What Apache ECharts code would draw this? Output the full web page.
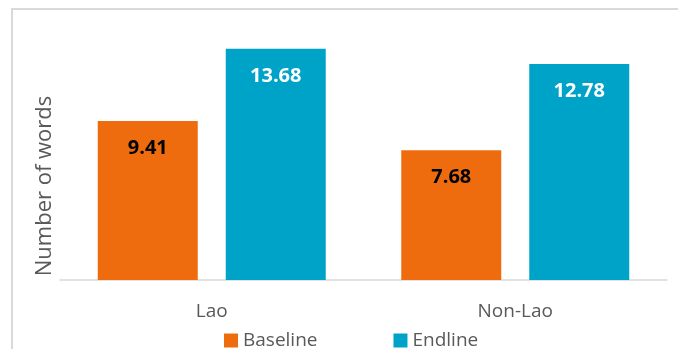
<!DOCTYPE html>
<html>
<head>
<meta charset="utf-8">
<script src="https://cdn.jsdelivr.net/npm/echarts@6/dist/echarts.min.js"></script>
<style>
  html, body { margin: 0; padding: 0; background: #fff; }
  #chart { width: 678px; height: 349px; }
</style>
</head>
<body>
<div id="chart"></div>
<script>
// Vocabulary size by group, baseline vs endline
const categories = ['Lao', 'Non-Lao'];
const baseline = [9.41, 7.68];
const endline = [13.68, 12.78];
const seriesNames = ['Baseline', 'Endline'];
const yTitle = 'Number of words';

const FONT = '"Open Sans", sans-serif';
const chart = echarts.init(document.getElementById('chart'), null, { renderer: 'canvas' });

chart.setOption({
  animation: false,
  backgroundColor: '#ffffff',
  grid: { left: 60, right: 11, top: 43.4, bottom: 69, containLabel: false },
  legend: {
    data: seriesNames,
    left: 219,
    top: 326,
    itemWidth: 14,
    itemHeight: 14,
    itemGap: 76,
    icon: 'rect',
    textStyle: { fontFamily: FONT, fontSize: 19, color: '#595959', padding: [0, 0, 0, 0] }
  },
  xAxis: {
    type: 'category',
    data: categories,
    axisLine: { lineStyle: { color: '#d9d9d9', width: 1.5 } },
    axisTick: { show: false },
    axisLabel: { fontFamily: FONT, fontSize: 19, color: '#595959', margin: 22 }
  },
  yAxis: {
    type: 'value',
    min: 0,
    max: 14,
    axisLine: { show: false },
    axisTick: { show: false },
    axisLabel: { show: false },
    splitLine: { show: false }
  },
  graphic: [
    {
      type: 'rect',
      silent: true,
      shape: { x: 12, y: 9, width: 800, height: 500 },
      style: { fill: 'none', stroke: '#d9d9d9', lineWidth: 2 }
    },
    {
      type: 'text',
      silent: true,
      x: 45,
      y: 186,
      rotation: Math.PI / 2,
      style: {
        text: yTitle,
        fontFamily: FONT,
        fontSize: 22,
        fill: '#595959',
        align: 'center',
        verticalAlign: 'middle'
      }
    }
  ],
  series: [
    {
      name: seriesNames[0],
      type: 'bar',
      data: baseline,
      barWidth: 100,
      barGap: '28%',
      itemStyle: { color: '#ef6c0e' },
      label: {
        show: true,
        position: 'insideTop',
        distance: 17,
        fontFamily: FONT,
        fontSize: 20,
        fontWeight: 'bold',
        color: '#000000',
        formatter: p => p.value.toFixed(2)
      }
    },
    {
      name: seriesNames[1],
      type: 'bar',
      data: endline,
      barWidth: 100,
      itemStyle: { color: '#00a3c8' },
      label: {
        show: true,
        position: 'insideTop',
        distance: 17,
        fontFamily: FONT,
        fontSize: 20,
        fontWeight: 'bold',
        color: '#ffffff',
        formatter: p => p.value.toFixed(2)
      }
    }
  ]
});
</script>
</body>
</html>
